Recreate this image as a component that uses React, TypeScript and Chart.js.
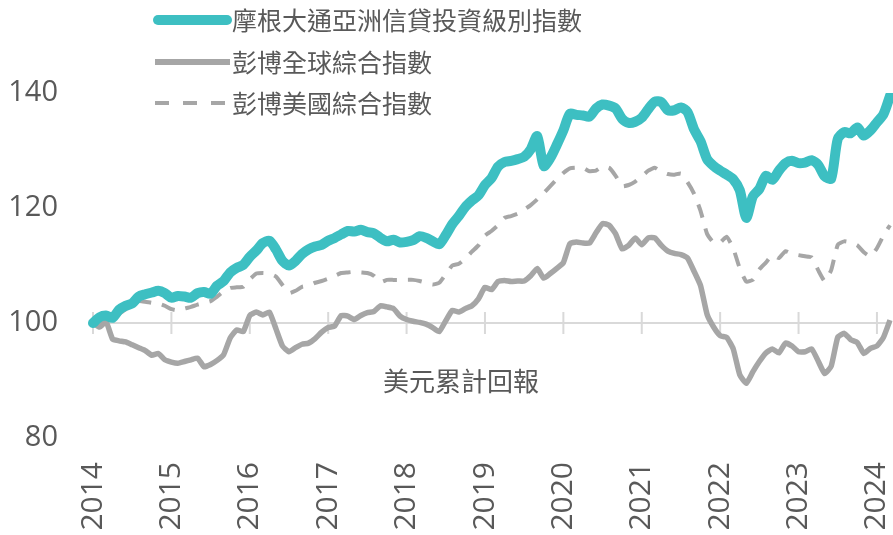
import React, { useEffect, useRef } from "react";
import { Chart, registerables } from "chart.js";

Chart.register(...registerables);

// ---- data ----
const startYear = 2014;
const monthCount = 123; // Jan 2014 .. Mar 2024
const months: string[] = Array.from({ length: monthCount }, (_, i) => {
  const y = startYear + Math.floor(i / 12);
  const m = (i % 12) + 1;
  return `${y}-${String(m).padStart(2, "0")}`;
});

const yearTicks = [2014, 2015, 2016, 2017, 2018, 2019, 2020, 2021, 2022, 2023, 2024];
const yTicks = [80, 100, 120, 140];

const seriesNames = ["摩根大通亞洲信貸投資級別指數", "彭博全球綜合指數", "彭博美國綜合指數"];
const annotationText = "美元累計回報";

const jpmAsiaIG = [
  100, 101, 101.3, 100.9, 102.3, 103, 103.4, 104.6, 105, 105.3, 105.6, 105.2,
  104.4, 104.7, 104.6, 104.4, 105.2, 105.4, 105.1, 106.5, 107.3, 108.8, 109.6, 110.1,
  111.5, 112.6, 113.9, 114.3, 112.8, 110.8, 110, 110.8, 112, 112.8, 113.3, 113.6,
  114.3, 114.8, 115.4, 116, 115.9, 116.2, 115.8, 115.6, 114.8, 114.2, 114.5, 114,
  114.1, 114.4, 115.1, 114.8, 114.2, 113.7, 115.3, 117.2, 118.6, 120.2, 121.3, 122.2,
  124, 125.2, 127.2, 128, 128.2, 128.5, 128.9, 130.2, 132.5, 127.3, 128.7, 131,
  133.5, 136.4, 136.2, 136.1, 135.9, 137.3, 138, 137.8, 137.3, 135.5, 134.8, 135,
  135.7, 137.2, 138.5, 138.4, 137, 137, 137.5, 136.7, 133.7, 131.6, 128.5, 127.3,
  126.5, 125.8, 125, 123.1, 118.3, 122, 123.3, 125.6, 124.9, 126.5, 127.8, 128.2,
  127.8, 127.9, 128.3, 127.5, 125.5, 125.1, 132, 133.2, 133, 134, 132.6, 133.5,
  134.9, 136.3, 139.5,
];

const bbgGlobalAgg = [
  100, 99.3, 100.2, 97.2, 96.9, 96.7, 96.2, 95.7, 95.2, 94.4, 94.7, 93.6,
  93.2, 93, 93.3, 93.6, 93.9, 92.4, 92.8, 93.5, 94.5, 97.4, 98.8, 98.5,
  101.3, 101.9, 101.4, 101.9, 99, 96, 95, 95.7, 96.3, 96.5, 97.3, 98.4,
  99.2, 99.5, 101.3, 101.2, 100.6, 101.3, 101.8, 102, 103, 102.8, 102.5, 101.2,
  100.6, 100.3, 100.1, 99.8, 99.2, 98.5, 100.4, 102.2, 101.9, 102.5, 103, 104.2,
  106.2, 105.8, 107.2, 107.4, 107.2, 107.3, 107.3, 108.2, 109.5, 107.8, 108.6, 109.5,
  110.5, 113.8, 114.1, 113.9, 113.9, 115.7, 117.3, 117, 115.5, 112.9, 113.5, 114.8,
  113.6, 114.8, 114.8, 113.5, 112.5, 112.1, 111.9, 111.3, 109, 106.5, 101.5, 99.3,
  97.8, 97.5, 95.5, 91, 89.5, 91.5, 93.3, 94.8, 95.5, 94.8, 96.5, 96,
  95, 95, 95.5, 93.4, 91.2, 92.5, 97.5, 98.2, 97.1, 96.6, 94.7, 95.6,
  96, 97.5, 100.5,
];

const bbgUSAgg = [
  100, 100.2, 100.4, 100.8, 101.6, 102.4, 103, 103.8, 103.7, 103.5, 103.4, 103,
  102.4, 102.2, 102.5, 102.8, 103.2, 103.5, 103.8, 104.6, 105.5, 106.1, 106.2, 106.3,
  107.6, 108.6, 108.7, 108.6, 108.1, 106.6, 105.2, 105.6, 106.3, 106.5, 107, 107.3,
  107.7, 108.2, 108.7, 108.8, 108.9, 108.8, 108.7, 108.2, 107.1, 107.5, 107.5, 107.5,
  107.5, 107.5, 107.3, 107, 106.7, 107, 108.5, 110, 110.3, 111.2, 112.4, 113.5,
  115.2, 116, 117, 118.3, 118.6, 119, 119.7, 120.5, 121.5, 122.6, 123.8, 125,
  126.1, 126.9, 127, 127, 126.4, 126.5, 127.2, 127, 125.6, 123.8, 124, 124.6,
  125.5, 126.5, 127, 126.3, 125.9, 125.8, 126, 124.5, 122.5, 119.5, 115.5, 114,
  114, 115, 113, 109.5, 107.2, 107.5, 109.3, 110.5, 111.8, 111.3, 112.5, 112,
  111.8, 111.6, 111.4, 109.2, 107.3, 109.2, 113.6, 114.2, 114, 113.5, 112.3, 111.6,
  113, 115.2, 117,
];

// ---- styles ----
const TEAL = "#3dbfc2";
const GRAY = "#a6a6a6";
const TEXT = "#595959";
const GRID = "#d9d9d9";
const NUM_FONT = "'Open Sans', 'Noto Sans', sans-serif";
const CJK_FONT = "'Noto Sans CJK TC', 'Noto Sans', sans-serif";

const refLinePlugin = {
  id: "refLine",
  beforeDatasetsDraw(chart: any) {
    const { ctx, scales, chartArea } = chart;
    const y = scales.y.getPixelForValue(100);
    ctx.save();
    ctx.strokeStyle = GRID;
    ctx.lineWidth = 2;
    ctx.beginPath();
    ctx.moveTo(chartArea.left, y);
    ctx.lineTo(chartArea.right, y);
    ctx.stroke();
    yearTicks.forEach((yr) => {
      const x = scales.x.getPixelForValue((yr - startYear) * 12);
      ctx.beginPath();
      ctx.moveTo(x, y - 11);
      ctx.lineTo(x, y + 11);
      ctx.stroke();
    });
    ctx.restore();
  },
};

const customLegendPlugin = {
  id: "customLegend",
  afterDraw(chart: any) {
    const { ctx } = chart;
    ctx.save();
    ctx.font = `25px ${CJK_FONT}`;
    ctx.fillStyle = TEXT;
    ctx.textBaseline = "middle";
    ctx.textAlign = "left";
    const rows = [20, 62, 103];
    chart.data.datasets.forEach((ds: any, i: number) => {
      const y = rows[i];
      ctx.strokeStyle = ds.borderColor;
      ctx.lineCap = i === 0 ? "round" : "butt";
      ctx.lineWidth = i === 0 ? 10 : i === 1 ? 6 : 4;
      ctx.setLineDash(i === 2 ? [14, 14] : []);
      ctx.beginPath();
      ctx.moveTo(i === 0 ? 158 : 155, y);
      ctx.lineTo(i === 0 ? 227 : 230, y);
      ctx.stroke();
      ctx.setLineDash([]);
      ctx.fillText(ds.label, 232, y);
    });
    // annotation
    ctx.font = `26px ${CJK_FONT}`;
    ctx.textAlign = "center";
    ctx.fillStyle = TEXT;
    ctx.fillText(annotationText, 461, 381);
    ctx.restore();
  },
};

export default function App() {
  const ref = useRef<HTMLCanvasElement | null>(null);
  useEffect(() => {
    if (!ref.current) return;
    const chart = new Chart(ref.current, {
      type: "line",
      data: {
        labels: months,
        datasets: [
          {
            label: seriesNames[0],
            data: jpmAsiaIG,
            borderColor: TEAL,
            borderWidth: 10,
            pointRadius: 0,
            tension: 0.25,
            borderCapStyle: "round",
            borderJoinStyle: "round",
          },
          {
            label: seriesNames[1],
            data: bbgGlobalAgg,
            borderColor: GRAY,
            borderWidth: 5.5,
            pointRadius: 0,
            tension: 0.15,
            borderJoinStyle: "round",
          },
          {
            label: seriesNames[2],
            data: bbgUSAgg,
            borderColor: GRAY,
            borderWidth: 4,
            borderDash: [14, 11],
            pointRadius: 0,
            tension: 0.15,
          },
        ],
      },
      options: {
        responsive: false,
        animation: false,
        layout: { padding: { top: 93, right: 3, bottom: 0, left: 0 } },
        plugins: {
          legend: { display: false },
          tooltip: { enabled: false },
        },
        scales: {
          x: {
            type: "category",
            offset: false,
            grid: { display: false, drawTicks: false },
            border: { display: false },
            ticks: {
              autoSkip: false,
              minRotation: 90,
              maxRotation: 90,
              padding: 24,
              color: TEXT,
              font: { size: 30, family: NUM_FONT },
              callback: (_v: any, i: number) =>
                i % 12 === 0 ? String(startYear + i / 12) : null,
            },
            afterFit: (s: any) => {
              s.height = 97;
              s.paddingLeft = 0;
              s.paddingRight = 0;
            },
          },
          y: {
            min: 80,
            max: 140,
            grid: { display: false, drawTicks: false },
            border: { display: false },
            afterBuildTicks: (s: any) => {
              s.ticks = yTicks.map((v) => ({ value: v }));
            },
            ticks: {
              padding: 35,
              color: TEXT,
              font: { size: 29, family: NUM_FONT },
            },
            afterFit: (s: any) => {
              s.width = 93;
              s.paddingTop = 0;
              s.paddingBottom = 0;
            },
          },
        },
      },
      plugins: [refLinePlugin, customLegendPlugin],
    });
    return () => chart.destroy();
  }, []);
  return (
    <div style={{ position: "absolute", left: 0, top: 0, width: 893, height: 535 }}>
      <canvas ref={ref} width={893} height={535} style={{ width: 893, height: 535 }} />
    </div>
  );
}
